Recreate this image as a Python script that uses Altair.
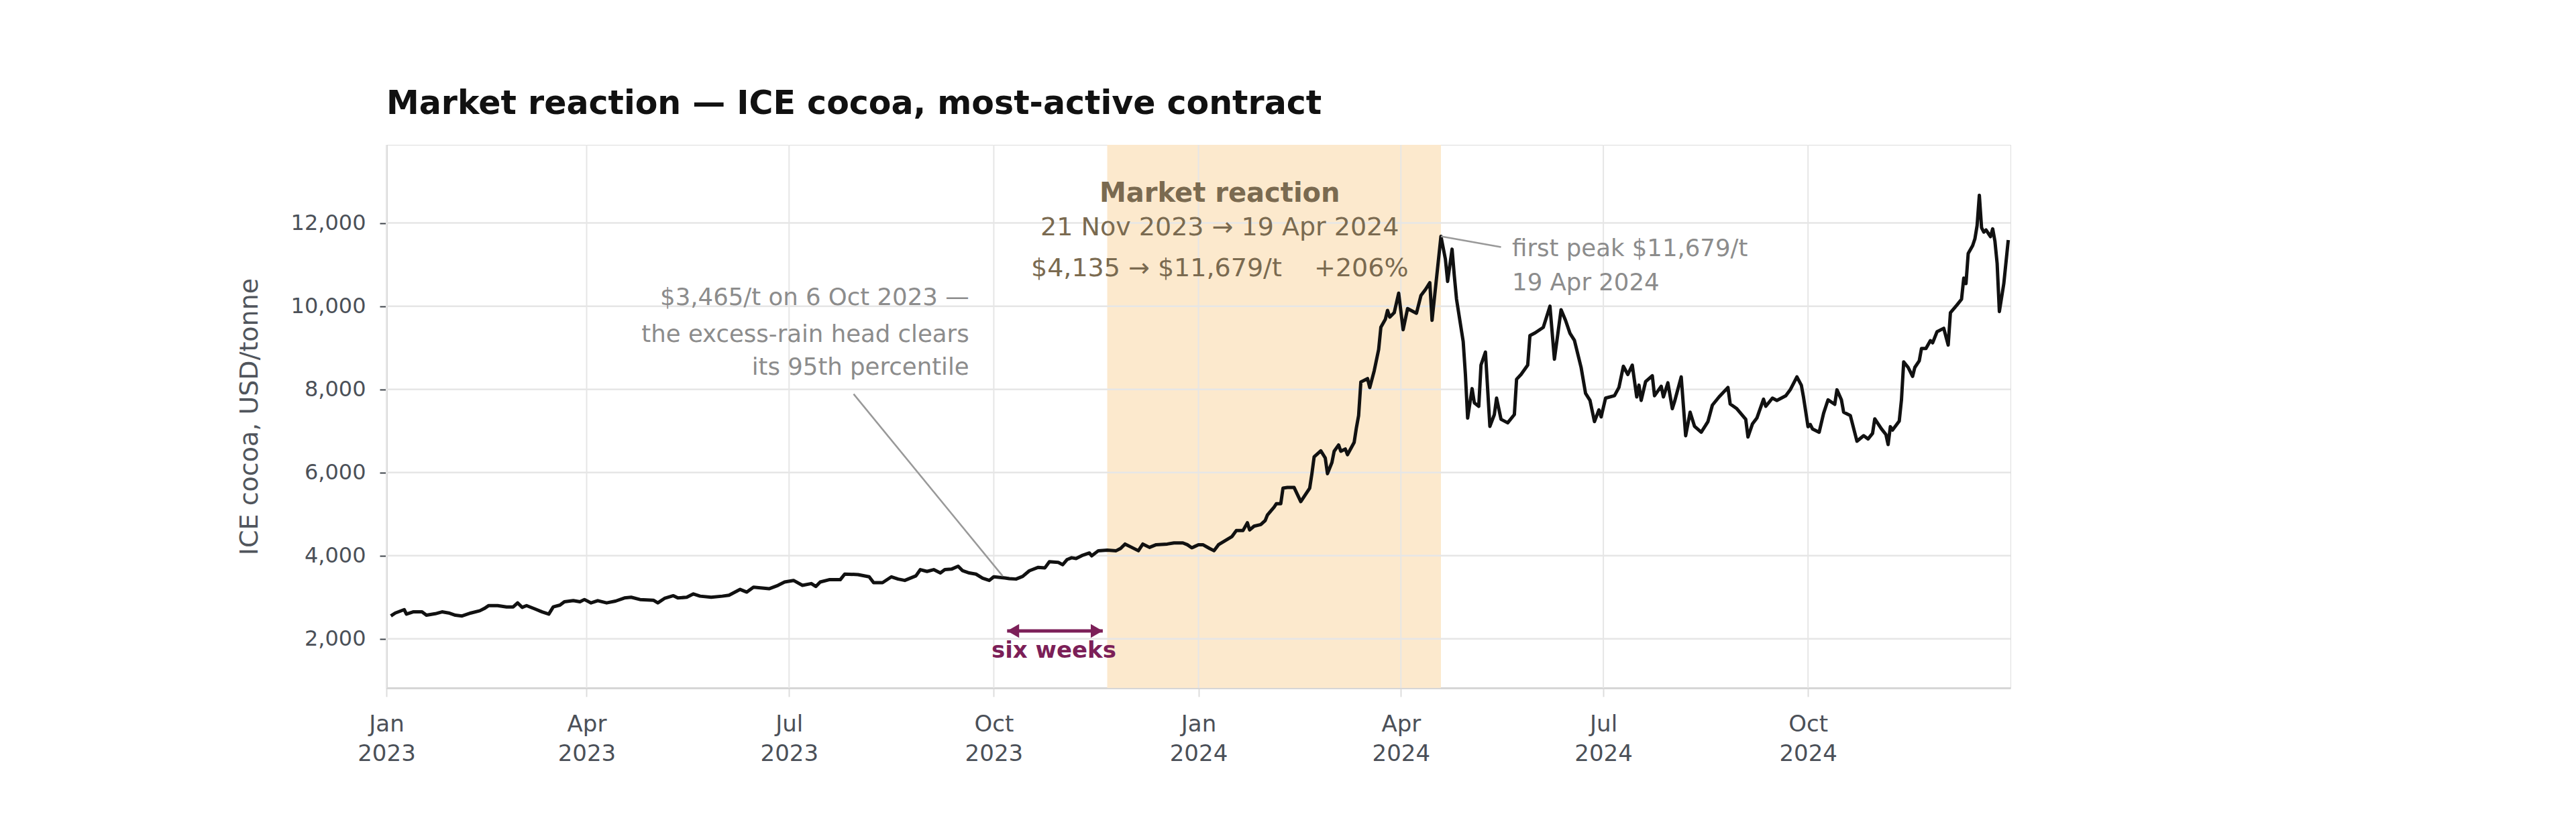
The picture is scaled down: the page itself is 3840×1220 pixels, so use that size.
import altair as alt
import pandas as pd

# ---- series: ICE cocoa most-active, USD/tonne ----
dates = [
    "2023-01-03","2023-01-05","2023-01-09","2023-01-10","2023-01-13","2023-01-17","2023-01-19","2023-01-23",
    "2023-01-26","2023-01-29","2023-02-01","2023-02-04","2023-02-08","2023-02-12","2023-02-14","2023-02-16",
    "2023-02-20","2023-02-24","2023-02-27","2023-03-01","2023-03-03","2023-03-05","2023-03-09","2023-03-12",
    "2023-03-15","2023-03-17","2023-03-20","2023-03-22","2023-03-26","2023-03-29","2023-03-31","2023-04-03",
    "2023-04-06","2023-04-10","2023-04-14","2023-04-18","2023-04-21","2023-04-25","2023-05-01","2023-05-03",
    "2023-05-06","2023-05-10","2023-05-12","2023-05-16","2023-05-19","2023-05-22","2023-05-27","2023-06-01",
    "2023-06-04","2023-06-09","2023-06-12","2023-06-15","2023-06-22","2023-06-26","2023-06-29","2023-07-03",
    "2023-07-07","2023-07-11","2023-07-13","2023-07-15","2023-07-19","2023-07-24","2023-07-26","2023-08-01",
    "2023-08-06","2023-08-08","2023-08-12","2023-08-16","2023-08-19","2023-08-22","2023-08-27","2023-08-29",
    "2023-09-01","2023-09-04","2023-09-07","2023-09-09","2023-09-12","2023-09-15","2023-09-17","2023-09-20",
    "2023-09-23","2023-09-26","2023-09-29","2023-10-01","2023-10-06","2023-10-08","2023-10-11","2023-10-14",
    "2023-10-17","2023-10-21","2023-10-24","2023-10-26","2023-10-30","2023-11-01","2023-11-03","2023-11-05",
    "2023-11-07","2023-11-10","2023-11-13","2023-11-14","2023-11-17","2023-11-21","2023-11-25","2023-11-27",
    "2023-11-29","2023-12-02","2023-12-05","2023-12-07","2023-12-10","2023-12-13","2023-12-18","2023-12-21",
    "2023-12-25","2023-12-27","2023-12-29","2024-01-01","2024-01-03","2024-01-06","2024-01-08","2024-01-10",
    "2024-01-13","2024-01-16","2024-01-18","2024-01-21","2024-01-23","2024-01-24","2024-01-26","2024-01-29",
    "2024-01-31","2024-02-01","2024-02-04","2024-02-05","2024-02-07","2024-02-08","2024-02-10","2024-02-13",
    "2024-02-16","2024-02-18","2024-02-20","2024-02-21","2024-02-22","2024-02-25","2024-02-27","2024-02-28",
    "2024-03-01","2024-03-02","2024-03-04","2024-03-05","2024-03-07","2024-03-08","2024-03-11","2024-03-12",
    "2024-03-13","2024-03-14","2024-03-17","2024-03-18","2024-03-20","2024-03-22","2024-03-23","2024-03-25",
    "2024-03-26","2024-03-27","2024-03-29","2024-03-31","2024-04-02","2024-04-04","2024-04-08","2024-04-10",
    "2024-04-12","2024-04-14","2024-04-15","2024-04-19","2024-04-21","2024-04-22","2024-04-24","2024-04-25",
    "2024-04-26","2024-04-29","2024-04-30","2024-05-01","2024-05-03","2024-05-04","2024-05-06","2024-05-07",
    "2024-05-09","2024-05-11","2024-05-13","2024-05-14","2024-05-16","2024-05-19","2024-05-22","2024-05-23",
    "2024-05-25","2024-05-28","2024-05-29","2024-05-31","2024-06-04","2024-06-07","2024-06-09","2024-06-12",
    "2024-06-14","2024-06-16","2024-06-18","2024-06-21","2024-06-23","2024-06-25","2024-06-27","2024-06-29",
    "2024-06-30","2024-07-02","2024-07-06","2024-07-08","2024-07-10","2024-07-12","2024-07-14","2024-07-16",
    "2024-07-17","2024-07-18","2024-07-20","2024-07-23","2024-07-24","2024-07-27","2024-07-28","2024-07-30",
    "2024-08-01","2024-08-02","2024-08-05","2024-08-07","2024-08-09","2024-08-11","2024-08-14","2024-08-17",
    "2024-08-19","2024-08-22","2024-08-26","2024-08-27","2024-08-30","2024-09-03","2024-09-04","2024-09-06",
    "2024-09-08","2024-09-11","2024-09-12","2024-09-15","2024-09-17","2024-09-21","2024-09-23","2024-09-26",
    "2024-09-28","2024-09-29","2024-10-01","2024-10-02","2024-10-03","2024-10-06","2024-10-08","2024-10-10",
    "2024-10-13","2024-10-14","2024-10-16","2024-10-17","2024-10-20","2024-10-23","2024-10-26","2024-10-28",
    "2024-10-30","2024-10-31","2024-11-03","2024-11-05","2024-11-06","2024-11-07","2024-11-08","2024-11-11",
    "2024-11-12","2024-11-13","2024-11-15","2024-11-17","2024-11-18","2024-11-20","2024-11-21","2024-11-23",
    "2024-11-25","2024-11-26","2024-11-28","2024-12-01","2024-12-03","2024-12-04","2024-12-07","2024-12-09",
    "2024-12-10","2024-12-11","2024-12-12","2024-12-14","2024-12-15","2024-12-16","2024-12-17","2024-12-18",
    "2024-12-19","2024-12-20","2024-12-22","2024-12-23","2024-12-24","2024-12-25","2024-12-26","2024-12-28",
    "2024-12-30",
]
prices = [
    2551,2622,2703,2595,2649,2649,2568,2605,
    2649,2622,2568,2551,2622,2676,2730,2800,
    2800,2768,2768,2865,2757,2800,2714,2649,
    2595,2768,2811,2892,2919,2892,2946,2865,
    2919,2865,2908,2984,3000,2946,2930,2865,
    2973,3038,2984,3000,3081,3027,3000,3027,
    3050,3189,3124,3243,3205,3286,3368,3405,
    3286,3330,3260,3368,3422,3422,3557,3546,
    3492,3351,3351,3492,3438,3405,3514,3665,
    3622,3665,3584,3665,3676,3746,3638,3584,
    3557,3459,3405,3492,3465,3449,3438,3503,
    3638,3719,3708,3854,3838,3784,3908,3950,
    3931,4011,4065,3995,4119,4135,4119,4173,
    4280,4200,4119,4280,4200,4264,4280,4307,
    4307,4264,4189,4264,4264,4173,4119,4264,
    4361,4457,4603,4603,4791,4619,4710,4748,
    4845,4979,5167,5248,5248,5624,5640,5640,
    5301,5463,5624,5973,6377,6522,6350,5973,
    6242,6511,6662,6511,6565,6430,6726,7076,
    7371,8178,8258,8043,8446,8957,9495,9683,
    9898,9737,9844,10312,9433,9943,9830,10255,
    10397,10566,9660,11679,11133,10595,11371,10736,
    10170,9150,8357,7309,8017,7677,7592,8583,
    8895,7110,7394,7790,7280,7195,7394,8243,
    8357,8583,9292,9348,9490,10000,8725,9915,
    9660,9348,9178,8527,7904,7734,7224,7507,
    7337,7790,7847,8045,8555,8357,8583,7818,
    8102,7734,8187,8328,7847,8074,7818,8158,
    7535,7705,8300,6884,7450,7110,6969,7224,
    7620,7818,8045,7649,7535,7280,6855,7167,
    7309,7762,7592,7790,7734,7847,7989,8300,
    8097,7801,7102,7156,7049,6968,7425,7748,
    7640,7989,7748,7452,7371,6753,6887,6807,
    6941,7291,7049,6914,6672,7102,7022,7237,
    7748,8661,8527,8312,8527,8688,8984,8984,
    9172,9118,9387,9468,9065,9844,10032,10167,
    10677,10543,11269,11457,11618,11941,12667,11887,
    11780,11833,11672,11860,11565,11027,9871,10543,
    11591,
]

# ---- axes ----
x_ticks = ["2023-01-01","2023-04-01","2023-07-01","2023-10-01",
           "2024-01-01","2024-04-01","2024-07-01","2024-10-01"]
y_ticks = [2000, 4000, 6000, 8000, 10000, 12000]
y_min, y_max = 820, 13880

# ---- annotations ----
window_start, window_end = "2023-11-21", "2024-04-19"
block_x = "2024-01-10T14:00"
block_lines = ["Market reaction",
               "21 Nov 2023 \u2192 19 Apr 2024",
               "$4,135 \u2192 $11,679/t\u00a0\u00a0\u00a0\u00a0+206%"]
block_y = [12504, 11699, 10724]

left_x = "2023-09-19T22:00"
left_lines = ["$3,465/t on 6 Oct 2023 \u2014",
              "the excess-rain head clears",
              "its 95th percentile"]
left_y = [10031, 9137, 8355]
left_leader_x = ["2023-07-30", "2023-10-05"]
left_leader_y = [7888, 3510]

peak_x = "2024-05-21"
peak_lines = ["first peak $11,679/t", "19 Apr 2024"]
peak_y = [11207, 10385]
peak_leader_x = ["2024-04-19", "2024-05-16"]
peak_leader_y = [11679, 11420]

arrow_x = ["2023-10-07", "2023-11-19"]
arrow_y = 2189
six_label_x = "2023-10-28"
six_label_y = 1544

FONT = "DejaVu Sans"
GRAY = "#8c8c8c"
BROWN = "#7a6a50"
PLUM = "#7c1f58"
GRID = "#e6e6e6"

df = pd.DataFrame({"date": pd.to_datetime(dates), "price": prices})

xscale = alt.Scale(domain=[alt.DateTime(year=2023, month=1, date=1),
                           alt.DateTime(year=2024, month=12, date=31)])
yscale = alt.Scale(domain=[y_min, y_max], nice=False, zero=False)

x_vals = [alt.DateTime(year=int(d[:4]), month=int(d[5:7]), date=1) for d in x_ticks]

x_axis = alt.Axis(
    values=x_vals, grid=False, title=None,
    labelExpr="[timeFormat(datum.value, '%b'), timeFormat(datum.value, '%Y')]",
    labelFont=FONT, labelFontSize=34, labelColor="#4b5058", labelLineHeight=44,
    labelPadding=24, tickSize=13, tickColor="#dddddd", tickWidth=2,
    domainColor="#d6d6d6", domainWidth=3, labelAlign="center",
)
y_axis = alt.Axis(
    values=y_ticks, format=",.0f", grid=False,
    title="ICE cocoa, USD/tonne", titleFont=FONT, titleFontSize=38,
    titleFontWeight="normal", titleColor="#50555c",
    titleAngle=270, titleBaseline="alphabetic", titleAlign="center",
    titleX=-193, titleY=405,
    labelFont=FONT, labelFontSize=32, labelColor="#4b5058",
    labelPadding=21, tickSize=10, tickColor="#3f444b", tickWidth=2,
    domainColor="#d6d6d6", domainWidth=3,
)

shade = alt.Chart(pd.DataFrame({"start": [pd.Timestamp(window_start)],
                                "end": [pd.Timestamp(window_end)]})).mark_rect(
    color="#fce9cd").encode(
    x=alt.X("start:T", scale=xscale, axis=x_axis),
    x2="end:T",
)

xgrid = alt.Chart(pd.DataFrame({"t": pd.to_datetime(x_ticks)})).mark_rule(
    color=GRID, strokeWidth=2).encode(x=alt.X("t:T", scale=xscale))
ygrid = alt.Chart(pd.DataFrame({"v": y_ticks})).mark_rule(
    color=GRID, strokeWidth=2.5).encode(y=alt.Y("v:Q", scale=yscale, axis=y_axis))

line = alt.Chart(df).mark_line(color="#111111", strokeWidth=5, strokeJoin="round").encode(
    x=alt.X("date:T", scale=xscale),
    y=alt.Y("price:Q", scale=yscale),
)

def text_layer(xs, ys, texts, **kw):
    d = pd.DataFrame({"x": pd.to_datetime(xs), "y": ys, "t": texts})
    return alt.Chart(d).mark_text(font=FONT, baseline="alphabetic", **kw).encode(
        x=alt.X("x:T", scale=xscale), y=alt.Y("y:Q", scale=yscale), text="t:N")

block_title = text_layer([block_x], [block_y[0]], [block_lines[0]],
                         fontSize=40, fontWeight="bold", color=BROWN, align="center")
block_body = text_layer([block_x, block_x], block_y[1:], block_lines[1:],
                        fontSize=38, color=BROWN, align="center")
left_text = text_layer([left_x] * 3, left_y, left_lines,
                       fontSize=35.5, color=GRAY, align="right")
peak_text = text_layer([peak_x] * 2, peak_y, peak_lines,
                       fontSize=35.5, color=GRAY, align="left")

def seg(xs, ys, **kw):
    d = pd.DataFrame({"x": [pd.Timestamp(xs[0])], "x2": [pd.Timestamp(xs[1])],
                      "y": [ys[0]], "y2": [ys[1]]})
    return alt.Chart(d).mark_rule(**kw).encode(
        x=alt.X("x:T", scale=xscale), x2="x2:T",
        y=alt.Y("y:Q", scale=yscale), y2="y2:Q")

left_leader = seg(left_leader_x, left_leader_y, color="#999999", strokeWidth=2.5)
peak_leader = seg(peak_leader_x, peak_leader_y, color="#999999", strokeWidth=2.5)
arrow_shaft = seg(arrow_x, [arrow_y, arrow_y], color=PLUM, strokeWidth=5)

arrow_heads_l = alt.Chart(pd.DataFrame({"x": [pd.Timestamp(arrow_x[0])], "y": [arrow_y]})).mark_point(
    shape="triangle-left", filled=True, color=PLUM, size=420, opacity=1, xOffset=9).encode(
    x=alt.X("x:T", scale=xscale), y=alt.Y("y:Q", scale=yscale))
arrow_heads_r = alt.Chart(pd.DataFrame({"x": [pd.Timestamp(arrow_x[1])], "y": [arrow_y]})).mark_point(
    shape="triangle-right", filled=True, color=PLUM, size=420, opacity=1, xOffset=-9).encode(
    x=alt.X("x:T", scale=xscale), y=alt.Y("y:Q", scale=yscale))
six_text = text_layer([six_label_x], [six_label_y], ["six weeks"],
                      fontSize=34, fontWeight="bold", color=PLUM, align="center")

chart = alt.layer(
    shade, xgrid, ygrid, line, left_leader, peak_leader,
    block_title, block_body, left_text, peak_text,
    arrow_shaft, arrow_heads_l, arrow_heads_r, six_text,
).properties(
    width=2421, height=810,
    title=alt.TitleParams(
        "Market reaction \u2014 ICE cocoa, most-active contract",
        anchor="start", frame="group", font=FONT, fontSize=49, fontWeight="bold",
        color="#111111", offset=35),
    autosize=alt.AutoSizeParams(type="none"),
    padding={"left": 568, "top": 208, "right": 40, "bottom": 150},
).configure_view(stroke=None).configure(background="white")

chart.save("out.html", embed_options={"renderer": "svg", "actions": False})
